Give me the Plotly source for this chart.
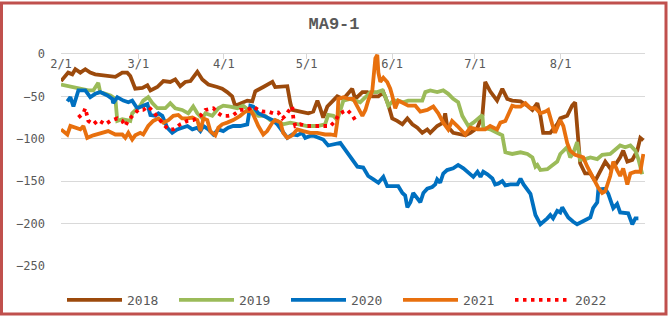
import plotly.graph_objects as go

# x values: days since Feb 1 (tick labels below map them to dates)
tick_days = [0, 28, 59, 89, 120, 150, 181]
tick_text = ["2/1", "3/1", "4/1", "5/1", "6/1", "7/1", "8/1"]
y_ticks = [0, -50, -100, -150, -200, -250]

d2018 = [0, 0.5, 2.6, 4.1, 5.2, 7, 8.8, 10.6, 12.4, 19.7, 22.2, 24, 25.1, 26.9, 29.5, 31.3, 32.4, 34.9,
         37.1, 39.6, 41.4, 43.2, 45, 46.9, 49.4, 51.2, 53.4, 56.6, 58.4, 60.2, 62, 63.1, 65.7, 67.5,
         69.3, 70.4, 73.3, 76.6, 77.6, 80.2, 82, 83.1, 83.8, 86.7, 89.6, 91.4, 92.9, 93.9, 95, 96.5,
         98.3, 100.1, 102.3, 105.5, 106.6, 109.2, 111, 112.8, 115, 116.8, 118.6, 120, 121.8, 123.7,
         125.5, 127.3, 129.1, 130.9, 132.7, 133.8, 136.3, 138.5, 139.2, 139.9, 142.1, 144.7, 146.5,
         148.3, 150.9, 152.7, 153.7, 155.5, 158, 159.9, 161.7, 163.5, 166.5, 169, 170.8, 172.6, 173.7,
         174.7, 177.3, 179.8, 180.9, 183.4, 185.2, 186.3, 187.4, 188.1, 189.9, 191.8, 193.5, 195.4,
         197.2, 199, 200.8, 202.6, 203.7, 205.2, 207, 208.8, 209.9, 211]
v2018 = [-32, -30, -22, -24, -18, -22, -18, -22, -24, -27, -22, -22, -26, -41, -40, -37, -43, -39,
         -32, -33, -30, -38, -33, -32, -21, -30, -36, -39, -41, -45, -50, -61, -58, -55,
         -56, -44, -39, -33, -39, -38, -38, -58, -66, -68, -70, -68, -55, -64, -75, -62,
         -56, -50, -53, -41, -53, -45, -45, -50, -50, -45, -60, -76, -79, -83,
         -76, -83, -87, -93, -89, -93, -85, -81, -70, -85, -93, -95, -96,
         -93, -87, -72, -33, -44, -55, -41, -53, -55, -56, -61, -66, -58, -73,
         -93, -93, -83, -76, -73, -61, -57, -98, -129, -141, -141, -150, -137,
         -127, -135, -131, -122, -114, -127, -125, -114, -99, -102]

d2019 = [0, 7, 9.9, 11.7, 13.5, 14.2, 17.9, 19.7, 20.4, 22.2, 24, 25.1, 25.8, 27.6, 28.7, 29.8, 31.6,
         33.1, 34.9, 37.8, 39.6, 41.4, 43.9, 46.1, 47.9, 49.4, 51.2, 52.3, 54.8, 57, 58.8, 61.3, 63.9,
         66, 67.9, 69.7, 71.5, 74, 75.8, 78.4, 80.5, 83.1, 85.6, 89.2, 92.9, 95.7, 96.8, 98.7, 100.1,
         102.3, 104.8, 108.4, 110.3, 112.1, 114.6, 116.4, 117.5, 118.6, 120.4, 122.2, 124, 125.8,
         129.1, 130.9, 132, 133.8, 136.3, 138.5, 140.3, 142.1, 143.9, 145.4, 146.5, 147.6, 149.4,
         151.2, 152.7, 153, 155.5, 158, 159.9, 161, 163.5, 166.5, 169, 170.8, 171.9, 172.6, 173.7,
         176.2, 178, 179.8, 180.9, 182, 183.4, 184.5, 185.6, 187, 188.1, 189.9, 191.8, 194.3, 196.1,
         199, 201.5, 202.6, 204.4, 206.3, 208.1, 209.2, 210.6]
v2019 = [-36, -41, -43, -43, -34, -45, -49, -53, -79, -77, -78, -79, -70, -64, -61, -55, -51,
         -58, -64, -64, -58, -64, -66, -70, -62, -70, -76, -70, -73, -64, -61, -62, -64,
         -61, -66, -68, -73, -73, -78, -79, -83, -81, -83, -85, -85, -83, -72, -73, -78,
         -55, -53, -57, -51, -45, -45, -43, -50, -61, -55, -55, -57, -55,
         -55, -55, -45, -43, -45, -43, -47, -53, -57, -73, -79, -85, -81,
         -76, -72, -87, -89, -93, -96, -116, -118, -116, -118, -122, -133, -131, -137,
         -136, -131, -127, -118, -114, -110, -122, -117, -104, -125, -124, -122, -124, -119,
         -118, -112, -108, -110, -108, -114, -124, -142]

d2020 = [2.3, 3.4, 4.5, 6.3, 8.8, 10.6, 12.4, 14.2, 16.8, 18.6, 18.9, 20.4, 22.6, 24.4, 25.8, 27.6,
         29.8, 31.3, 32.4, 34.2, 35.3, 36.7, 38.5, 40.3, 42.1, 43.9, 45.8, 47.6, 49.4, 50.5, 51.6,
         53.4, 55.2, 57, 58.8, 60.6, 62.4, 64.9, 67.5, 68.6, 69.7, 71.5, 73.3, 74.7, 76.6, 78.4,
         80.2, 82, 83.8, 85.6, 87.4, 88.5, 91, 93.2, 95, 96.8, 98.7, 101.2, 102.3, 104.8, 107.4,
         109.5, 111.3, 113.2, 115, 116.8, 118.2, 120, 122.2, 123.7, 124.7, 125.5, 126.6, 127.6,
         129.1, 130.2, 131.3, 132.7, 134.5, 135.6, 136.3, 137.4, 138.5, 139.9, 142.1, 143.9, 145.8,
         148.3, 149.4, 150.9, 152, 153, 154.5, 156.3, 157.3, 158.4, 159.9, 161, 162.8, 165.4, 166.5,
         167.6, 170.1, 171.9, 173.7, 176.2, 177.3, 178.3, 179.8, 180.9, 181.6, 182.7, 183.8, 185.6,
         187, 188.8, 190.7, 191.8, 192.8, 194.3, 194.7, 197.2, 198.3, 200.1, 201.5, 202.6, 205.5,
         207, 208.1, 209.2]
v2020 = [-56, -51, -62, -43, -43, -51, -47, -45, -49, -53, -58, -51, -55, -57, -55, -64,
         -61, -59, -72, -73, -70, -73, -87, -93, -89, -87, -85, -89, -87, -91, -85,
         -89, -95, -89, -91, -87, -85, -85, -83, -61, -62, -70, -73, -76, -78, -83,
         -91, -99, -95, -96, -93, -99, -96, -99, -101, -108, -107, -105, -110, -122, -133,
         -134, -144, -148, -152, -145, -156, -156, -156, -164, -167, -181, -175, -164,
         -171, -175, -164, -159, -157, -154, -148, -152, -141, -137, -135, -131, -135,
         -141, -145, -139, -145, -139, -142, -147, -154, -153, -150, -155, -154, -154, -147,
         -154, -165, -190, -201, -194, -190, -194, -185, -187, -181, -187, -193, -198,
         -201, -198, -195, -193, -182, -175, -160, -159, -165, -182, -177, -187, -188,
         -201, -194, -194]

d2021 = [0, 2.3, 3.4, 7, 8.1, 9.5, 11.7, 15.3, 17.1, 19.7, 22.2, 23.3, 24.4, 25.8, 26.9, 28.7, 29.8,
         31.6, 33.4, 35.3, 37.1, 38.9, 40.7, 42.5, 43.9, 45.8, 47.6, 49.4, 50.5, 51.6, 53, 54.1, 55.9,
         57, 58.4, 60.2, 62.4, 64.9, 66.8, 68.6, 69.7, 71.5, 73.3, 74.7, 76.6, 77.6, 79.5, 80.5, 82,
         83.8, 85.6, 87.8, 90.3, 92.9, 95.7, 97.6, 99.4, 100.1, 100.5, 102.3, 104.1, 105.9, 107.7,
         109.2, 110.3, 111.3, 112.8, 113.9, 114.6, 115, 115.7, 116.8, 118.2, 119.3, 120, 121.1,
         122.2, 123.7, 125.8, 128.4, 130.2, 132.7, 134.9, 136.7, 138.5, 140.3, 141.7, 143.6, 145.4,
         146.5, 148.3, 150.9, 153.7, 155.5, 158, 159.2, 161, 162.1, 163.5, 164.6, 166.5, 168.3,
         170.1, 171.9, 173.7, 175.5, 176.5, 178, 179, 180.9, 182, 183.4, 184.5, 186.3, 189.2, 190.7,
         192.8, 194.7, 196.1, 197.2, 199, 200.1, 201.5, 202.6, 203.7, 205.2, 206.3, 208.1, 209.9, 211]
v2021 = [-89, -95, -85, -89, -85, -99, -96, -93, -91, -95, -95, -99, -93, -101, -96, -93, -95,
         -85, -79, -76, -81, -78, -73, -72, -76, -76, -75, -78, -91, -76, -78, -91, -96,
         -87, -83, -81, -78, -73, -68, -66, -72, -85, -95, -91, -81, -78, -81, -93, -99,
         -96, -89, -91, -93, -93, -95, -95, -96, -80, -53, -51, -53, -53, -64,
         -73, -66, -55, -43, -5, -1, -22, -33, -28, -33, -41, -49, -64,
         -55, -58, -61, -61, -68, -66, -62, -70, -81, -89, -79, -85, -91,
         -95, -87, -89, -89, -85, -89, -81, -79, -70, -61, -62, -62, -58,
         -64, -64, -70, -68, -66, -83, -93, -78, -85, -105, -114, -119, -122, -133,
         -147, -158, -164, -162, -144, -127, -137, -144, -135, -154, -141, -139, -139, -118]

d2022 = [6.3, 8.1, 8.8, 9.5, 9.9, 11.7, 13.5, 16, 17.9, 20.4, 22.2, 23.3, 24.4, 26.2, 28, 29.8, 31.6,
         33.4, 35.3, 37.1, 38.9, 40.7, 43.2, 45.8, 47.9, 50.5, 52.3, 55.2, 57, 58.4, 60.6, 62.4, 64.9,
         67.5, 69.7, 71.5, 73.3, 75.1, 76.9, 78.7, 80.2, 81.3, 82.3, 83.8, 84.2, 84.9, 86.7, 89.2,
         92.1, 94.7, 97.6, 99.4, 100.5, 102.3, 103.7, 105.5, 106.6]
v2022 = [-75, -70, -64, -72, -79, -83, -78, -83, -79, -76, -79, -85, -78, -72, -66, -66, -62,
         -68, -76, -83, -89, -89, -83, -79, -78, -73, -66, -64, -70, -73, -73, -72, -66,
         -66, -62, -66, -68, -68, -70, -69, -76, -73, -68, -62, -76, -85, -83, -85,
         -85, -85, -85, -79, -72, -68, -66, -72, -78]

series = [
    ("2018", d2018, v2018, "#9C4A0C", "solid"),
    ("2019", d2019, v2019, "#9BBB59", "solid"),
    ("2020", d2020, v2020, "#0070C0", "solid"),
    ("2021", d2021, v2021, "#E8700E", "solid"),
    ("2022", d2022, v2022, "#FF0000", "3.5px,4.5px"),
]

fig = go.Figure()
for name, xs, ys, color, dash in series:
    fig.add_trace(go.Scatter(x=xs, y=ys, name=name, mode="lines",
                             line=dict(color=color, width=3.8, dash=dash)))

W, H = 668, 324
ml, mr, mt, mb = 61, 23, 54, 52
pw, ph = W - ml - mr, H - mt - mb

fig.update_layout(
    width=W, height=H,
    margin=dict(l=ml, r=mr, t=mt, b=mb),
    paper_bgcolor="white", plot_bgcolor="white",
    title=dict(text="<b>MA9-1</b>", x=0.5, xref="container", y=1 - 23 / H, yref="container",
               xanchor="center", yanchor="middle",
               font=dict(family="Liberation Mono", size=17, color="#595959")),
    xaxis=dict(range=[0, 211.6], side="top", tickvals=tick_days, ticktext=tick_text,
               showgrid=False, zeroline=False, showline=True, linecolor="#D9D9D9", linewidth=1,
               ticks="inside", ticklen=5, tickcolor="#D9D9D9", ticklabelposition="inside",
               ticklabeloverflow="allow",
               tickfont=dict(family="DejaVu Sans Mono", size=12, color="#595959")),
    yaxis=dict(range=[-250, 0], tickvals=y_ticks, showgrid=True, gridcolor="#D9D9D9", gridwidth=1,
               zeroline=False, showline=False, ticks="", ticklabelstandoff=15,
               ticklabeloverflow="allow",
               tickfont=dict(family="DejaVu Sans Mono", size=12, color="#595959")),
    showlegend=True,
    legend=dict(orientation="h", xref="container", yref="container",
                x=62 / W, y=1 - 300 / H, xanchor="left", yanchor="middle",
                itemwidth=55, entrywidth=42, entrywidthmode="pixels",
                font=dict(family="DejaVu Sans Mono", size=13, color="#595959"),
                bgcolor="rgba(0,0,0,0)"),
    shapes=[dict(type="rect", xref="paper", yref="paper",
                 x0=(1.5 - ml) / pw, x1=(W - 2 - ml) / pw,
                 y0=(H - mb - (H - 2.5)) / ph, y1=(H - mb - 1.5) / ph,
                 line=dict(color="#C0504D", width=3), fillcolor="rgba(0,0,0,0)", layer="above")],
)

fig.write_html("out.html")
